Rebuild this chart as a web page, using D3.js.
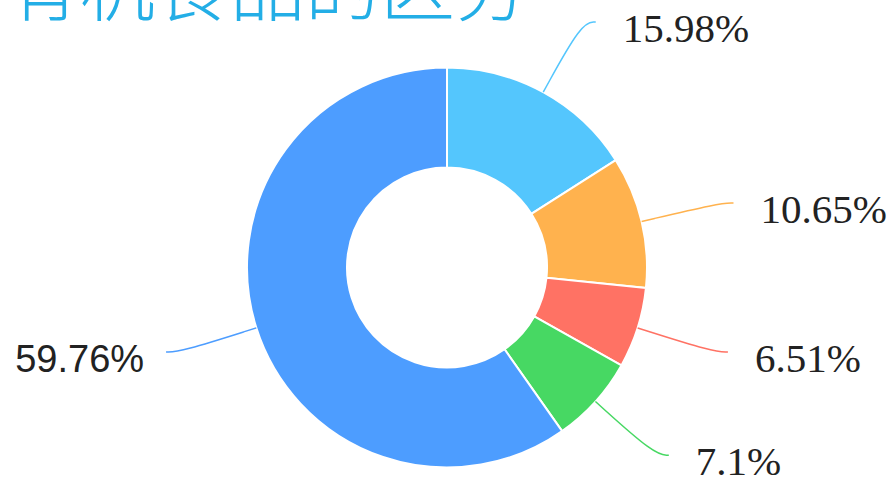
<!DOCTYPE html>
<html>
<head>
<meta charset="utf-8">
<script src="https://cdn.jsdelivr.net/npm/d3@7"></script>
<style>
  html, body { margin: 0; padding: 0; background: #fff; overflow: hidden; }
</style>
</head>
<body>
<script>
// size variables
var width = 894, height = 477;

// chart data
var titleText = "中有机食品的区分";
var labels = ["15.98%", "10.65%", "6.51%", "7.1%", "59.76%"];
var values = [15.98, 10.65, 6.51, 7.1, 59.76];
var colors = ["#54c6fd", "#ffb24e", "#ff7264", "#47d863", "#4d9dff"];

var cx = 447, cy = 267.5;
var outerR = 200, innerR = 100, lineR = 280, tail = 14;

var svg = d3.select("body").append("svg")
    .attr("width", width).attr("height", height);

// title, mostly cut off at the top
svg.append("text")
    .attr("x", -70)
    .attr("y", 15)
    .attr("fill", "#23aee6")
    .attr("font-family", "'Noto Sans CJK SC'")
    .attr("font-weight", 300)
    .attr("font-size", "75px")
    .text(titleText);

var pie = d3.pie().sort(null).value(d => d);
var arcs = pie(values);
var arc = d3.arc().innerRadius(innerR).outerRadius(outerR);

var g = svg.append("g").attr("transform", "translate(" + cx + "," + cy + ")");

g.selectAll("path.slice")
    .data(arcs)
    .join("path")
    .attr("class", "slice")
    .attr("d", arc)
    .attr("fill", (d, i) => colors[i])
    .attr("stroke", "#fff")
    .attr("stroke-width", 2);

// leader line points
function pts(d) {
    var a = (d.startAngle + d.endAngle) / 2;
    var p0 = [outerR * Math.sin(a), -outerR * Math.cos(a)];
    var p1 = [lineR * Math.sin(a), -lineR * Math.cos(a)];
    var right = Math.sin(a) >= 0;
    var p2 = [p1[0] + (right ? tail : -tail), p1[1]];
    return { p: [p0, p1, p2], right: right };
}

var line = d3.line().curve(d3.curveBasis);

g.selectAll("path.lead")
    .data(arcs)
    .join("path")
    .attr("class", "lead")
    .attr("d", d => line(pts(d).p))
    .attr("fill", "none")
    .attr("stroke", (d, i) => colors[i])
    .attr("stroke-width", 1.5);

g.selectAll("text.lab")
    .data(arcs)
    .join("text")
    .attr("class", "lab")
    .attr("x", d => { var o = pts(d); return o.p[2][0] + (o.right ? 27 : -22); })
    .attr("y", d => pts(d).p[2][1] + 19.5)
    .attr("text-anchor", d => pts(d).right ? "start" : "end")
    .attr("font-family", d => pts(d).right ? "'Liberation Serif'" : "'Liberation Sans'")
    .attr("font-size", d => pts(d).right ? "41px" : "38px")
    .attr("fill", "#222")
    .text((d, i) => labels[i]);
</script>
</body>
</html>
